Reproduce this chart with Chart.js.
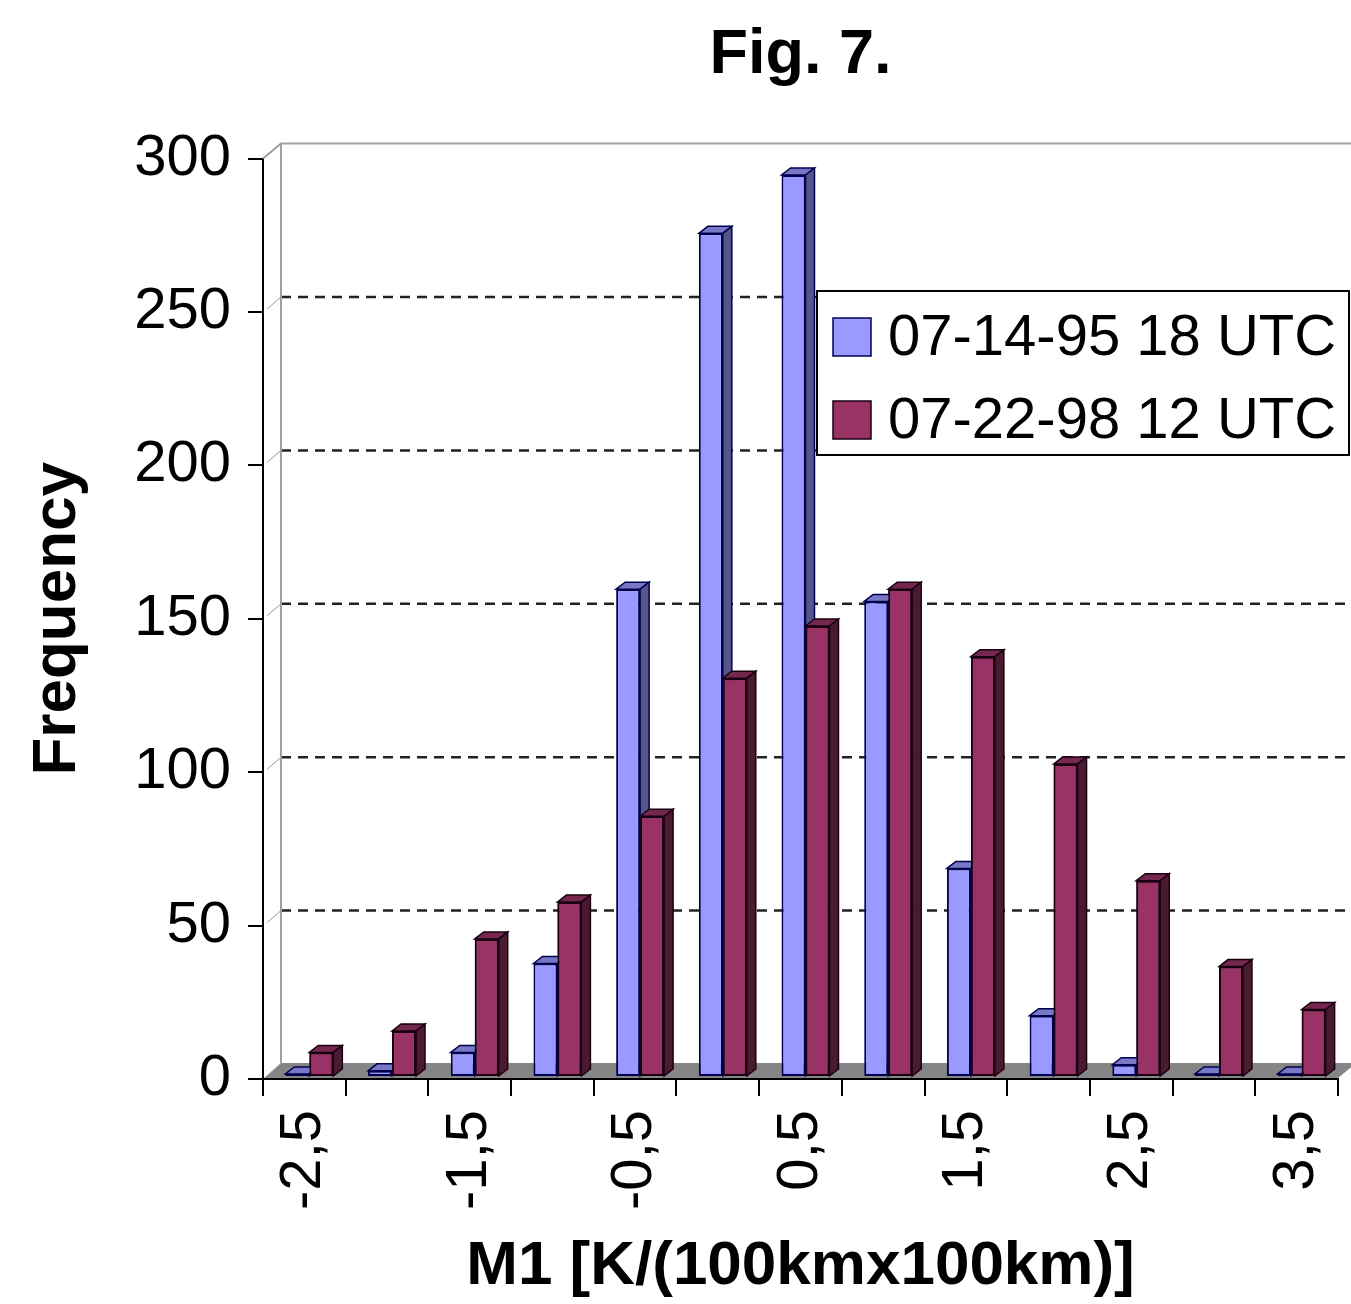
<!DOCTYPE html>
<html>
<head>
<meta charset="utf-8">
<title>Fig. 7.</title>
<script src="https://cdn.jsdelivr.net/npm/chart.js@4.4.1/dist/chart.umd.min.js"></script>
<style>
  html, body { margin: 0; padding: 0; background: #fff; }
  canvas { display: block; }
</style>
</head>
<body>
<canvas id="chart" width="1351" height="1304"></canvas>
<script>
// Dados
const categories = ['-2,5', '-2', '-1,5', '-1', '-0,5', '0', '0,5', '1', '1,5', '2', '2,5', '3', '3,5'];
const series1Label = '07-14-95 18 UTC';
const series2Label = '07-22-98 12 UTC';
const series1Values = [1, 2, 8, 37, 159, 275, 294, 155, 68, 20, 4, 1, 1];
const series2Values = [8, 15, 45, 57, 85, 130, 147, 159, 137, 102, 64, 36, 22];
const yTicks = [0, 50, 100, 150, 200, 250, 300];

// Efeito 3D (estilo Excel)
const WALL_DX = 18, WALL_DY = -15;   // parede do fundo
const BAR_DX = 9, BAR_DY = -7;       // profundidade das barras
const BAR_SHIFT_X = 5, BAR_SHIFT_Y = -2;

const faces = [
  { front: '#9999FF', top: '#7878C4', side: '#55558C', line: '#000050' },
  { front: '#993366', top: '#74284E', side: '#4A1A31', line: '#1a0010' }
];

const FONT = '"Liberation Sans", Arial, Helvetica, sans-serif';

// topo + lateral de cada barra
function drawFaces(ctx, meta, f) {
  ctx.lineWidth = 1.5;
  ctx.strokeStyle = f.line;
  meta.data.forEach(el => {
    const { x, y, base, width } = el.getProps(['x', 'y', 'base', 'width'], true);
    const xl = x - width / 2, xr = x + width / 2;
    ctx.fillStyle = f.top;
    ctx.beginPath();
    ctx.moveTo(xl, y);
    ctx.lineTo(xl + BAR_DX, y + BAR_DY);
    ctx.lineTo(xr + BAR_DX, y + BAR_DY);
    ctx.lineTo(xr, y);
    ctx.closePath();
    ctx.fill();
    ctx.stroke();
    ctx.fillStyle = f.side;
    ctx.beginPath();
    ctx.moveTo(xr, y);
    ctx.lineTo(xr + BAR_DX, y + BAR_DY);
    ctx.lineTo(xr + BAR_DX, base + BAR_DY);
    ctx.lineTo(xr, base);
    ctx.closePath();
    ctx.fill();
    ctx.stroke();
  });
}

// Parede, chão e linhas de grade "no fundo"
const wall3d = {
  id: 'wall3d',
  beforeDatasetsDraw(chart) {
    const { ctx, chartArea: a, scales: { y } } = chart;
    const W = chart.width;
    ctx.save();

    // chão cinza
    ctx.fillStyle = '#858585';
    ctx.beginPath();
    ctx.moveTo(a.left + 1, a.bottom - 1);
    ctx.lineTo(a.right, a.bottom - 1);
    ctx.lineTo(a.right + WALL_DX, a.bottom - 1 + WALL_DY);
    ctx.lineTo(a.left + WALL_DX, a.bottom - 1 + WALL_DY);
    ctx.closePath();
    ctx.fill();

    // grade tracejada na parede do fundo
    ctx.strokeStyle = '#222';
    ctx.lineWidth = 2.5;
    ctx.setLineDash([10, 7]);
    yTicks.forEach(v => {
      if (v === 0 || v === 300) return;
      const py = y.getPixelForValue(v) + WALL_DY;
      ctx.beginPath();
      ctx.moveTo(a.left + WALL_DX, py);
      ctx.lineTo(W, py);
      ctx.stroke();
    });
    ctx.setLineDash([]);

    // bordas da parede
    const topY = y.getPixelForValue(300);
    ctx.strokeStyle = '#a0a0a0';
    ctx.lineWidth = 2;
    ctx.beginPath();
    ctx.moveTo(a.left, topY);
    ctx.lineTo(a.left + WALL_DX, topY + WALL_DY);
    ctx.lineTo(W, topY + WALL_DY);
    ctx.moveTo(a.left + WALL_DX, topY + WALL_DY);
    ctx.lineTo(a.left + WALL_DX, a.bottom + WALL_DY);
    ctx.stroke();

    // pequenas diagonais na parede lateral
    ctx.strokeStyle = '#9a9a9a';
    ctx.lineWidth = 1;
    yTicks.forEach(v => {
      const py = y.getPixelForValue(v);
      ctx.beginPath();
      ctx.moveTo(a.left + 4, py - 3);
      ctx.lineTo(a.left + WALL_DX, py + WALL_DY);
      ctx.stroke();
    });
    ctx.restore();
  },
  // desloca as faces frontais um pouco para dentro da profundidade
  beforeDatasetDraw(chart) {
    chart.ctx.save();
    chart.ctx.translate(BAR_SHIFT_X, BAR_SHIFT_Y);
  },
  afterDatasetDraw(chart) {
    chart.ctx.restore();
  },
  // azul primeiro (com faces), depois o vermelho por cima
  afterDatasetsDraw(chart) {
    const ctx = chart.ctx;
    ctx.save();
    ctx.translate(BAR_SHIFT_X, BAR_SHIFT_Y);
    drawFaces(ctx, chart.getDatasetMeta(0), faces[0]);
    const red = chart.getDatasetMeta(1);
    red.data.forEach(el => el.draw(ctx));
    drawFaces(ctx, red, faces[1]);
    ctx.restore();
  }
};

// Legenda desenhada à mão (caixa dentro do gráfico)
const boxLegend = {
  id: 'boxLegend',
  afterDraw(chart) {
    const ctx = chart.ctx;
    const left = 817, top = 291, w = 532, h = 164;
    ctx.save();
    ctx.fillStyle = '#fff';
    ctx.fillRect(left, top, w, h);
    ctx.strokeStyle = '#000';
    ctx.lineWidth = 2;
    ctx.strokeRect(left, top, w, h);
    ctx.font = `58px ${FONT}`;
    ctx.textBaseline = 'middle';
    chart.data.datasets.forEach((ds, i) => {
      const sy = top + 27 + i * 83;
      ctx.fillStyle = ds.backgroundColor;
      ctx.fillRect(left + 16, sy, 38, 38);
      ctx.lineWidth = 1.5;
      ctx.strokeStyle = faces[i].line;
      ctx.strokeRect(left + 16, sy, 38, 38);
      ctx.fillStyle = '#000';
      ctx.fillText(ds.label, left + 71, sy + 21);
    });
    ctx.restore();
  }
};

const ctx = document.getElementById('chart').getContext('2d');
new Chart(ctx, {
  type: 'bar',
  data: {
    labels: categories,
    datasets: [
      { label: series1Label, data: series1Values, backgroundColor: faces[0].front,
        borderColor: faces[0].line, borderWidth: 2, borderSkipped: false },
      { label: series2Label, data: series2Values, backgroundColor: faces[1].front,
        borderColor: faces[1].line, borderWidth: 2, borderSkipped: false }
    ]
  },
  options: {
    responsive: false,
    animation: false,
    layout: { padding: { left: 0, right: 13, top: 0, bottom: 0 } },
    datasets: { bar: { categoryPercentage: 0.58, barPercentage: 1 } },
    plugins: {
      legend: { display: false },
      tooltip: { enabled: false },
      title: {
        display: true,
        fullSize: false,
        text: 'Fig. 7.',
        color: '#000',
        font: { family: FONT, size: 63, weight: 'bold' },
        padding: { top: 18, bottom: 65 }
      }
    },
    scales: {
      x: {
        grid: { drawOnChartArea: false, tickLength: 17, color: '#000', lineWidth: 2 },
        border: { display: true, color: '#000', width: 2 },
        ticks: {
          autoSkip: false, maxRotation: 90, minRotation: 90, padding: 14, color: '#000',
          font: { family: FONT, size: 58 },
          callback: (v, i) => (i % 2 === 0 ? categories[i] : '')
        },
        title: {
          display: true, text: 'M1 [K/(100kmx100km)]', color: '#000',
          font: { family: FONT, size: 62, weight: 'bold' },
          padding: { top: 0, bottom: 0 }
        },
        afterFit: s => { s.height = 225; s.paddingLeft = 0; s.paddingRight = 0; }
      },
      y: {
        min: 0, max: 300,
        afterBuildTicks: s => { s.ticks = yTicks.map(v => ({ value: v })); },
        grid: { drawOnChartArea: false, tickLength: 15, color: '#000', lineWidth: 2 },
        border: { display: true, color: '#000', width: 2 },
        ticks: { padding: 17, color: '#000', font: { family: FONT, size: 58 } },
        title: {
          display: true, text: 'Frequency', color: '#000',
          font: { family: FONT, size: 62, weight: 'bold' },
          padding: { top: 21, bottom: 0 }
        },
        afterFit: s => { s.width = 263; }
      }
    }
  },
  plugins: [wall3d, boxLegend]
});
</script>
</body>
</html>
